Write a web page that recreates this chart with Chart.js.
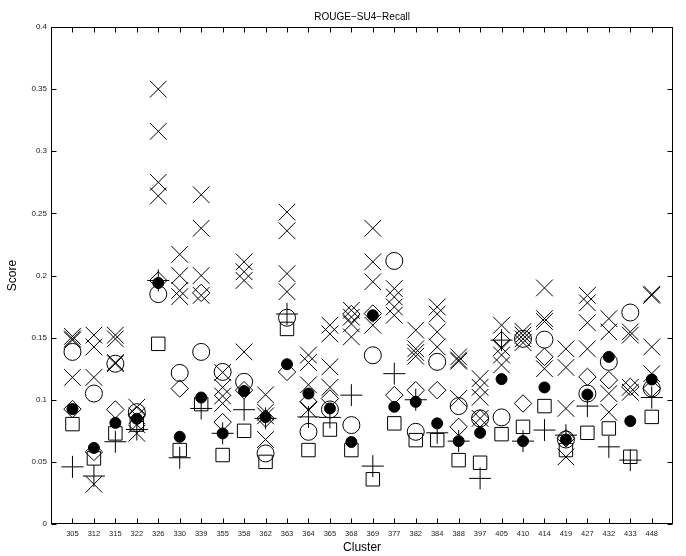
<!DOCTYPE html>
<html>
<head>
<meta charset="utf-8">
<script src="https://cdn.jsdelivr.net/npm/chart.js@4"></script>
<style>
html,body{margin:0;padding:0;background:#fff;}
canvas{display:block;}
</style>
</head>
<body>
<canvas id="c" width="686" height="556"></canvas>
<script>
const categories = ['305','312','315','322','326','330','339','355','358','362','363','364','365','368','369','377','382','384','388','397','405','410','414','419','427','432','433','448'];
const yTickLabels = ['0','0.05','0.1','0.15','0.2','0.25','0.3','0.35','0.4'];
const yTickValues = [0,0.05,0.1,0.15,0.2,0.25,0.3,0.35,0.4];

// four series drawn with X markers
const crossA = [0.151,0.152,0.152,0.094,0.350,0.217,0.265,0.122,0.211,0.104,0.251,0.136,0.160,0.172,0.238,0.1895,0.156,0.1747,0.1345,0.117,0.160,0.155,0.190,0.141,0.184,0.1653,0.1546,0.185];
const crossB = [0.149,0.1425,0.149,0.087,0.316,0.200,0.238,0.110,0.203,0.090,0.236,0.130,0.153,0.1665,0.211,0.1827,0.141,0.169,0.132,0.110,0.142,0.152,0.1653,0.126,0.178,0.1546,0.152,0.184];
const crossC = [0.148,0.118,0.130,0.080,0.275,0.188,0.200,0.103,0.196,0.087,0.2015,0.112,0.1265,0.161,0.195,0.1747,0.138,0.1546,0.131,0.102,0.136,0.149,0.163,0.093,0.162,0.105,0.110,0.1425];
const crossD = [0.118,0.032,0.129,0.073,0.264,0.183,0.184,0.097,0.1385,0.068,0.187,0.092,0.110,0.1506,0.160,0.168,0.135,0.1425,0.101,0.085,0.128,0.146,0.125,0.054,0.141,0.090,0.106,0.121];
const openCircle = [0.1385,0.105,0.129,0.090,0.185,0.1216,0.1385,0.1224,0.1144,0.0568,0.166,0.0742,0.0922,0.0796,0.1358,0.2117,0.0742,0.1305,0.0949,0.085,0.0858,0.149,0.1484,0.068,0.105,0.1305,0.1702,0.109];
const filledCircle = [0.0925,0.0612,0.0814,0.0847,0.194,0.0702,0.1018,0.0729,0.107,0.086,0.1286,0.105,0.093,0.066,0.168,0.0943,0.0983,0.081,0.0667,0.0734,0.1166,0.0667,0.1099,0.068,0.1042,0.1345,0.0828,0.1163];
const diamond = [0.0925,0.058,0.0922,0.088,0.196,0.109,0.186,0.082,0.1077,0.085,0.1224,0.0983,0.101,0.169,0.1694,0.1037,0.1077,0.1077,0.0782,0.085,0.148,0.097,0.1345,0.069,0.1184,0.1158,0.1104,0.109];
const square = [0.0804,0.0528,0.0729,0.080,0.145,0.0595,0.0965,0.0555,0.075,0.050,0.157,0.0595,0.076,0.0595,0.036,0.081,0.0675,0.0675,0.0514,0.0493,0.0723,0.0782,0.0949,0.0595,0.0734,0.0769,0.0541,0.0862];
const plus = [0.046,0.0386,0.0662,0.0761,0.196,0.0533,0.093,0.073,0.092,0.085,0.169,0.0862,0.0858,0.1037,0.0466,0.121,0.100,0.0734,0.0667,0.0367,0.148,0.0667,0.0756,0.0715,0.0949,0.0621,0.0514,0.1018];

const toPts = arr => arr.map((v, i) => ({x: i, y: v}));
const FONT = '"Liberation Sans", Arial, Helvetica, sans-serif';

function ds(label, arr, style, radius, fill) {
  return {
    label, data: toPts(arr), pointStyle: style, pointRadius: radius, pointHoverRadius: radius,
    borderColor: '#000', backgroundColor: fill ? '#000' : 'rgba(0,0,0,0)', pointBorderWidth: 1, borderWidth: 1, showLine: false
  };
}

const framePlugin = {
  id: 'frame',
  afterDraw(chart) {
    const {ctx, chartArea: a, scales: {x, y}} = chart;
    const L = Math.round(a.left) + 0.5, R = Math.round(a.right) - 0.5;
    const T = Math.round(a.top) + 0.5, B = Math.round(a.bottom) - 0.5;
    ctx.save();
    ctx.strokeStyle = '#000';
    ctx.lineWidth = 1;
    ctx.strokeRect(L, T, R - L, B - T);
    ctx.beginPath();
    categories.forEach((c, i) => {
      const px = Math.round(x.getPixelForValue(i)) + 0.5;
      ctx.moveTo(px, B); ctx.lineTo(px, B - 5);
      ctx.moveTo(px, T); ctx.lineTo(px, T + 5);
    });
    yTickValues.forEach(v => {
      const py = Math.round(y.getPixelForValue(v)) + 0.5;
      ctx.moveTo(L, py); ctx.lineTo(L + 5, py);
      ctx.moveTo(R, py); ctx.lineTo(R - 5, py);
    });
    ctx.stroke();
    ctx.restore();
  }
};

new Chart(document.getElementById('c'), {
  type: 'scatter',
  data: {
    datasets: [
      ds('A', crossA, 'crossRot', 11.8),
      ds('B', crossB, 'crossRot', 11.8),
      ds('C', crossC, 'crossRot', 11.8),
      ds('D', crossD, 'crossRot', 11.8),
      ds('E', openCircle, 'circle', 8.5),
      ds('F', diamond, 'rectRot', 8.7),
      ds('G', square, 'rect', 9.5),
      ds('H', plus, 'cross', 11),
      ds('I', filledCircle, 'circle', 5.5, true)
    ]
  },
  options: {
    responsive: false,
    animation: false,
    devicePixelRatio: 1,
    events: [],
    layout: {padding: {left: 0, right: 5, top: 0, bottom: 0}},
    plugins: {
      legend: {display: false},
      tooltip: {enabled: false},
      title: {
        display: true, fullSize: false, text: 'ROUGE\u2212SU4\u2212Recall', color: '#000',
        font: {family: FONT, size: 10, weight: 'normal'}, padding: {top: 11, bottom: 4}
      }
    },
    scales: {
      x: {
        type: 'linear', min: -1, max: 28,
        afterFit: s => { s.height = 32; },
        grid: {display: false, drawTicks: false},
        border: {display: false},
        ticks: {
          stepSize: 1, autoSkip: false, maxRotation: 0, padding: 5, color: '#222',
          font: {family: FONT, size: 7.5},
          callback: v => (categories[v] !== undefined ? categories[v] : '')
        },
        title: {display: true, text: 'Cluster', color: '#000', font: {family: FONT, size: 12}, padding: {top: 0, bottom: 1}}
      },
      y: {
        type: 'linear', min: 0, max: 0.4,
        afterFit: s => { s.width = 51; },
        grid: {display: false, drawTicks: false},
        border: {display: false},
        ticks: {
          stepSize: 0.05, padding: 4, color: '#222',
          font: {family: FONT, size: 8},
          callback: (v, i) => yTickLabels[i]
        },
        title: {display: true, text: 'Score', color: '#000', font: {family: FONT, size: 12}, padding: {top: 5, bottom: 0}}
      }
    }
  },
  plugins: [framePlugin]
});
</script>
</body>
</html>
